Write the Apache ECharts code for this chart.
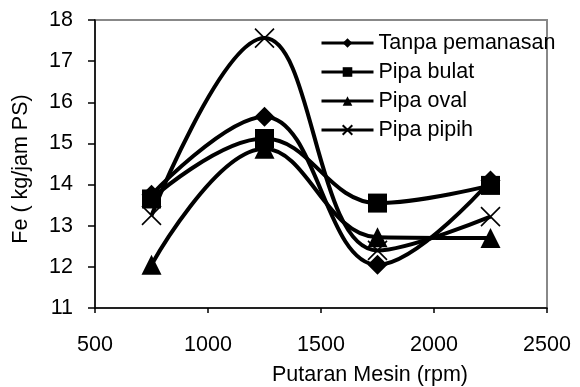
<!DOCTYPE html>
<html>
<head>
<meta charset="utf-8">
<script src="https://cdn.jsdelivr.net/npm/echarts@6/dist/echarts.min.js"></script>
<style>
  html, body { margin: 0; padding: 0; background: #fff; }
  #chart { width: 580px; height: 387px; }
</style>
</head>
<body>
<div id="chart"></div>
<script>
// putaran mesin (rpm)
var rpm = [750, 1250, 1750, 2250];
var seriesNames = ['Tanpa pemanasan', 'Pipa bulat', 'Pipa oval', 'Pipa pipih'];
var tanpaPemanasan = [13.75, 15.65, 12.05, 14.1];
var pipaBulat = [13.65, 15.12, 13.55, 13.98];
var pipaOval = [12.05, 14.87, 12.72, 12.7];
var pipaPipih = [13.25, 17.56, 12.4, 13.22];
var yTicks = [11, 12, 13, 14, 15, 16, 17, 18];
var xTicks = [500, 1000, 1500, 2000, 2500];

var crossPath = 'path://M0,0L10,10M10,0L0,10';
var fontFam = '"Liberation Sans", Arial, sans-serif';
var fs = 21.5;

function pairs(vals) {
    return rpm.map(function (x, i) { return [x, vals[i]]; });
}

function makeSeries(name, vals, symbol, size) {
    var isCross = symbol === crossPath;
    return {
        name: name,
        type: 'line',
        data: pairs(vals),
        smooth: 0.4,
        symbol: symbol,
        symbolSize: size,
        showAllSymbol: true,
        lineStyle: { color: '#000', width: 4 },
        itemStyle: {
            color: isCross ? 'none' : '#000',
            borderColor: '#000',
            borderWidth: isCross ? 1.6 : 0
        },
        emphasis: { disabled: true }
    };
}

var myChart = echarts.init(document.getElementById('chart'));

var option = {
    animation: false,
    textStyle: { fontFamily: fontFam },
    grid: {
        left: 95, right: 33, top: 20, bottom: 79,
        outerBoundsMode: 'none',
        containLabel: false,
        show: true,
        borderColor: '#888',
        borderWidth: 2
    },
    legend: {
        orient: 'vertical',
        left: 315,
        top: 27,
        itemWidth: 52,
        itemHeight: 12,
        itemGap: 7,
        data: seriesNames,
        textStyle: { fontSize: fs, color: '#000', fontFamily: fontFam },
        lineStyle: { width: 3 }
    },
    xAxis: {
        type: 'value',
        min: xTicks[0],
        max: xTicks[xTicks.length - 1],
        interval: 500,
        name: 'Putaran Mesin (rpm)',
        nameLocation: 'middle',
        nameGap: 56,
        nameTextStyle: { fontSize: fs, color: '#000', padding: [0, 0, 0, 98] },
        axisLine: { lineStyle: { color: '#000', width: 1.5 } },
        axisTick: { show: true, length: 5, lineStyle: { color: '#000', width: 1.5 } },
        axisLabel: {
            fontSize: fs, color: '#000', margin: 26,
            formatter: function (v) { return String(v); }
        },
        splitLine: { show: false }
    },
    yAxis: {
        type: 'value',
        min: yTicks[0],
        max: yTicks[yTicks.length - 1],
        interval: 1,
        name: 'Fe ( kg/jam PS)',
        nameLocation: 'middle',
        nameGap: 63,
        nameRotate: 90,
        nameTextStyle: { fontSize: fs, color: '#000', padding: [0, 10, 0, 0] },
        axisLine: { show: true, lineStyle: { color: '#000', width: 1.5 } },
        axisTick: { show: true, length: 7, lineStyle: { color: '#000', width: 1.5 } },
        axisLabel: { fontSize: fs, color: '#000', margin: 22 },
        splitLine: { show: false }
    },
    series: [
        makeSeries(seriesNames[0], tanpaPemanasan, 'diamond', 20),
        makeSeries(seriesNames[1], pipaBulat, 'rect', 19),
        makeSeries(seriesNames[2], pipaOval, 'triangle', 20),
        makeSeries(seriesNames[3], pipaPipih, crossPath, 19)
    ]
};

myChart.setOption(option);
</script>
</body>
</html>
